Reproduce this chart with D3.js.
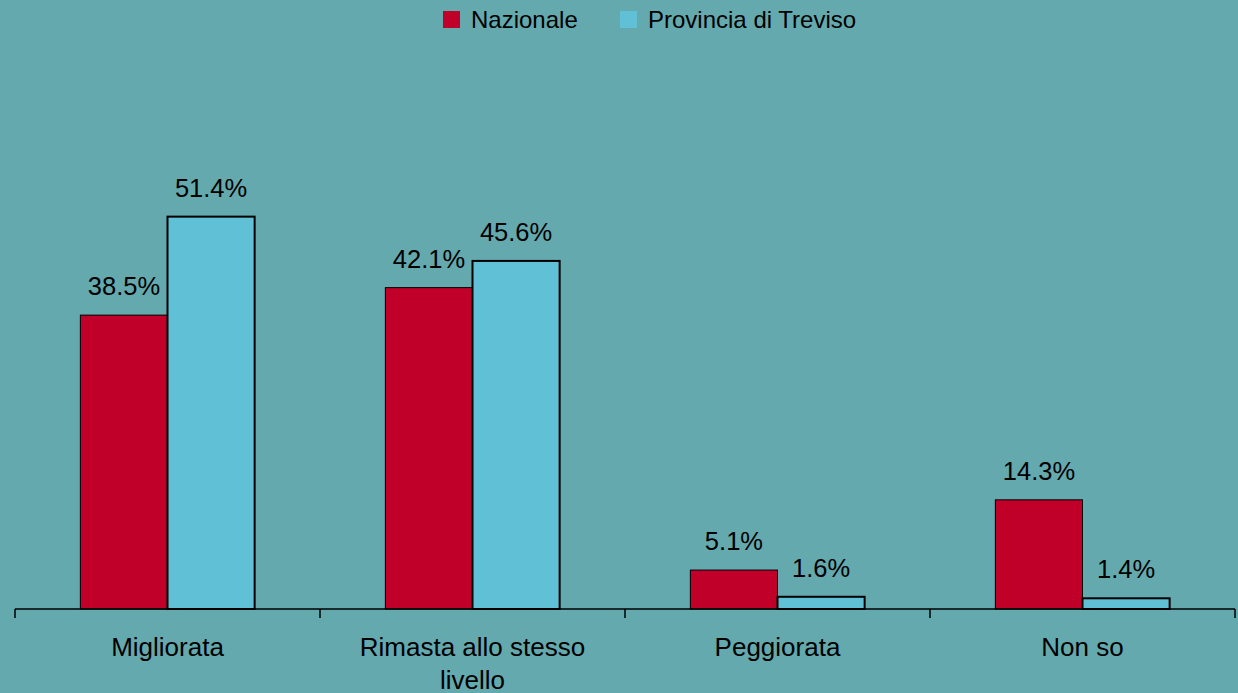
<!DOCTYPE html>
<html>
<head>
<meta charset="utf-8">
<script src="https://cdn.jsdelivr.net/npm/d3@7.9.0/dist/d3.min.js"></script>
<style>
  body { margin: 0; background: #64a9ae; }
  svg { display: block; font-family: 'Liberation Sans', Arial, sans-serif; }
</style>
</head>
<body>
<div id="chart"></div>
<script>
const categories = ['Migliorata', 'Rimasta allo stesso livello', 'Peggiorata', 'Non so'];
const seriesNames = ['Nazionale', 'Provincia di Treviso'];
const nazionale = [38.5, 42.1, 5.1, 14.3];
const treviso = [51.4, 45.6, 1.6, 1.4];
const colors = ['#c00028', '#60c0d5'];

const width = 1238, height = 693;
const svg = d3.select('#chart').append('svg')
  .attr('width', width)
  .attr('height', height);

svg.append('rect').attr('width', width).attr('height', height).attr('fill', '#64a9ae');

const x = d3.scaleBand().domain(categories).range([15, 1235]);
const xs = d3.scaleBand().domain(seriesNames).range([0, x.bandwidth()]).paddingOuter(0.75).paddingInner(0);
const y = d3.scaleLinear().domain([0, 60]).range([609, 151]);

const rows = categories.map((c, i) => ({ cat: c, values: [nazionale[i], treviso[i]] }));

const groups = svg.selectAll('.grp').data(rows).join('g')
  .attr('class', 'grp')
  .attr('transform', d => `translate(${x(d.cat)},0)`);

groups.selectAll('rect').data(d => d.values.map((v, j) => ({ v, s: seriesNames[j], j })))
  .join('rect')
  .attr('x', d => xs(d.s))
  .attr('width', xs.bandwidth())
  .attr('y', d => y(d.v))
  .attr('height', d => y(0) - y(d.v))
  .attr('fill', d => colors[d.j])
  .attr('stroke', '#000')
  .attr('stroke-width', d => d.j === 0 ? 1 : 2);

groups.selectAll('text.val').data(d => d.values.map((v, j) => ({ v, s: seriesNames[j] })))
  .join('text')
  .attr('class', 'val')
  .attr('x', d => xs(d.s) + xs.bandwidth() / 2)
  .attr('y', d => y(d.v) - 20)
  .attr('text-anchor', 'middle')
  .attr('font-size', 25.5)
  .attr('fill', '#000')
  .text(d => d.v.toFixed(1) + '%');

// x axis
const axis = svg.append('g').attr('transform', `translate(0,${y(0)})`);
axis.append('line').attr('x1', 15).attr('x2', 1235).attr('stroke', '#000').attr('stroke-width', 1.5);
const tickPos = categories.map(c => x(c)).concat([x.range()[1]]);
axis.selectAll('line.tick').data(tickPos).join('line')
  .attr('class', 'tick')
  .attr('x1', d => d).attr('x2', d => d)
  .attr('y1', 0).attr('y2', 9)
  .attr('stroke', '#000').attr('stroke-width', 1.5);

// category labels with wrapping
const labelLines = {
  'Migliorata': ['Migliorata'],
  'Rimasta allo stesso livello': ['Rimasta allo stesso', 'livello'],
  'Peggiorata': ['Peggiorata'],
  'Non so': ['Non so']
};
categories.forEach(c => {
  const t = svg.append('text')
    .attr('x', x(c) + x.bandwidth() / 2)
    .attr('y', 656)
    .attr('text-anchor', 'middle')
    .attr('font-size', 26)
    .attr('fill', '#000');
  labelLines[c].forEach((ln, i) => {
    t.append('tspan').attr('x', x(c) + x.bandwidth() / 2).attr('dy', i === 0 ? 0 : 33).text(ln);
  });
});

// legend
const legendX = [443, 620];
const legend = svg.selectAll('.leg').data(seriesNames).join('g')
  .attr('class', 'leg')
  .attr('transform', (d, i) => `translate(${legendX[i]},11)`);
legend.append('rect').attr('width', 17).attr('height', 17).attr('fill', (d, i) => colors[i]);
legend.append('text').attr('x', 28).attr('y', 16.5).attr('font-size', 24)
  .attr('fill', '#000').text(d => d);
</script>
</body>
</html>
